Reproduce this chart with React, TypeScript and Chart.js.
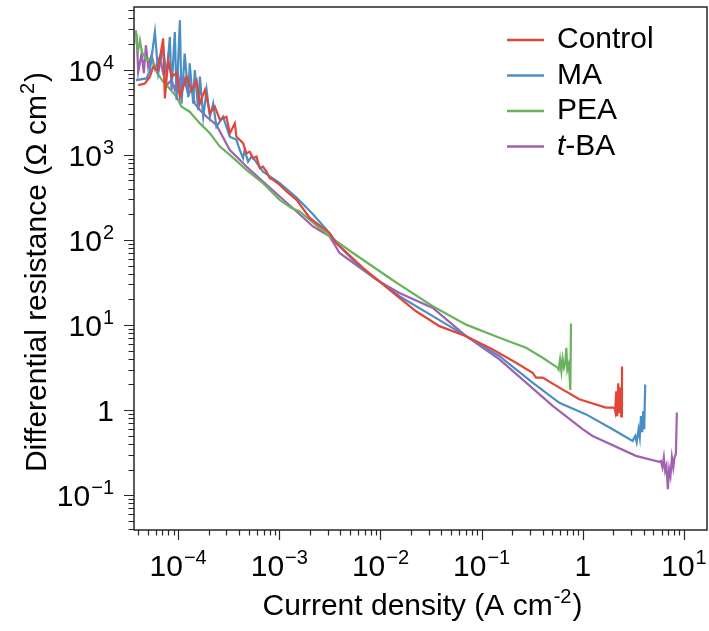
import React, { useEffect, useRef } from "react";
import { Chart, registerables } from "chart.js";

Chart.register(...registerables);

const FONT = '"Liberation Sans", Arial, Helvetica, sans-serif';

// ---- data (current density A cm^-2, differential resistance Ω cm^2) ----
const controlX = [4.03e-5, 4.69e-5, 5.26e-5, 5.66e-5, 6.31e-5, 7.11e-5, 7.39e-5, 7.97e-5, 8.6e-5, 9.64e-5, 1.04e-4, 1.21e-4, 1.36e-4, 1.52e-4, 1.64e-4, 1.84e-4, 2.06e-4, 2.3e-4, 2.58e-4, 3.0e-4, 3.24e-4, 3.63e-4, 3.77e-4, 4.06e-4, 4.38e-4, 4.73e-4, 5.1e-4, 5.5e-4, 5.94e-4, 6.41e-4, 6.9e-4, 7.46e-4, 8.04e-4, 8.67e-4, 1.01e-3, 1.18e-3, 1.48e-3, 2.0e-3, 3.14e-3, 3.66e-3, 6.7e-3, 0.0154, 0.0225, 0.0383, 0.0703, 0.129, 0.219, 0.319, 0.345, 0.401, 0.586, 0.923, 1.69, 2.05, 2.09, 2.14, 2.19, 2.24, 2.29, 2.35, 2.4, 2.44];
const controlY = [6.6e3, 6.9e3, 8.3e3, 1.08e4, 9.9e3, 2.33e4, 4.6e3, 1.3e4, 8.3e3, 9.1e3, 4.8e3, 8.3e3, 5.8e3, 7.5e3, 4.0e3, 5.8e3, 3.1e3, 3.7e3, 2.6e3, 2.8e3, 1.79e3, 2.34e3, 1.63e3, 1.5e3, 1.37e3, 1.04e3, 1.09e3, 912, 953, 697, 728, 635, 532, 508, 443, 371, 296, 181, 120, 92, 46.9, 20.8, 14.5, 9.7, 7.4, 5.16, 3.6, 2.75, 2.41, 2.41, 1.84, 1.34, 1.07, 1.07, 0.97, 1.66, 0.845, 2.06, 0.92, 1.85, 0.845, 3.26];

const maX = [3.82e-5, 4.88e-5, 5.26e-5, 5.89e-5, 6.35e-5, 7.11e-5, 7.68e-5, 8.28e-5, 8.6e-5, 9.27e-5, 9.64e-5, 1.04e-4, 1.08e-4, 1.16e-4, 1.26e-4, 1.3e-4, 1.41e-4, 1.46e-4, 1.58e-4, 1.64e-4, 1.77e-4, 1.91e-4, 2.06e-4, 2.22e-4, 2.39e-4, 2.78e-4, 3.24e-4, 3.77e-4, 4.06e-4, 4.38e-4, 4.55e-4, 4.91e-4, 5.31e-4, 5.71e-4, 6.17e-4, 6.9e-4, 1.01e-3, 1.48e-3, 2.15e-3, 2.6e-3, 3.14e-3, 3.66e-3, 6.2e-3, 0.0154, 0.0329, 0.0703, 0.15, 0.319, 0.586, 1.08, 1.97, 3.11, 3.3, 3.41, 3.56, 3.66, 3.76, 3.87, 3.96, 4.05, 4.14];
const maY = [7.55e3, 7.9e3, 9.9e3, 2.78e4, 9.1e3, 1.85e4, 8.3e3, 2.43e4, 5.8e3, 2.78e4, 4.4e3, 3.82e4, 4.0e3, 1.55e4, 4.8e3, 1.19e4, 4.0e3, 9.9e3, 3.36e3, 8.3e3, 2.8e3, 5.8e3, 2.8e3, 4.0e3, 2.14e3, 2.8e3, 1.63e3, 1.5e3, 1.14e3, 912, 1.14e3, 832, 953, 871, 762, 635, 464, 315, 200, 155, 120, 92, 48.9, 21.8, 12.7, 7.4, 4.3, 2.1, 1.22, 0.89, 0.596, 0.435, 0.497, 0.42, 0.596, 0.48, 0.853, 0.55, 0.975, 0.596, 2.0];

const peaX = [3.82e-5, 3.88e-5, 4.03e-5, 4.19e-5, 4.38e-5, 4.88e-5, 5.38e-5, 6.12e-5, 7.11e-5, 7.68e-5, 9.64e-5, 1.08e-4, 1.3e-4, 1.64e-4, 2.06e-4, 2.58e-4, 3.24e-4, 4.73e-4, 6.9e-4, 1.01e-3, 1.32e-3, 1.59e-3, 3.14e-3, 5.35e-3, 0.0123, 0.0154, 0.0329, 0.0703, 0.15, 0.275, 0.401, 0.564, 0.577, 0.596, 0.614, 0.632, 0.652, 0.672, 0.687, 0.703, 0.724, 0.741, 0.753, 0.765];
const peaY = [2.92e4, 2.03e4, 1.7e4, 2.22e4, 1.61e4, 1.3e4, 1.37e4, 9.4e3, 7.2e3, 6.6e3, 4.8e3, 3.67e3, 3.21e3, 2.34e3, 1.79e3, 1.25e3, 998, 665, 464, 296, 237, 216, 110, 70.2, 35.7, 29.8, 16.6, 10.1, 7.08, 5.4, 4.12, 3.15, 3.0, 3.94, 2.87, 4.02, 3.15, 3.6, 5.4, 3.0, 3.44, 2.51, 1.72, 10.4];

const tbaX = [3.88e-5, 4.03e-5, 4.35e-5, 4.58e-5, 4.8e-5, 5.06e-5, 5.46e-5, 5.89e-5, 6.6e-5, 7.11e-5, 7.68e-5, 8.6e-5, 9.27e-5, 1.0e-4, 1.08e-4, 1.16e-4, 1.26e-4, 1.36e-4, 1.46e-4, 1.64e-4, 1.91e-4, 2.39e-4, 3.24e-4, 4.73e-4, 6.9e-4, 1.01e-3, 1.48e-3, 2.15e-3, 3.14e-3, 3.52e-3, 3.94e-3, 9.1e-3, 0.0154, 0.0329, 0.0703, 0.15, 0.275, 0.504, 0.995, 1.25, 3.35, 5.69, 5.91, 6.13, 6.33, 6.52, 6.72, 6.93, 7.15, 7.36, 7.6, 7.84, 8.06, 8.32, 8.51];
const tbaY = [2.67e4, 9.4e3, 1.55e4, 9.1e3, 1.94e4, 1.08e4, 1.48e4, 1.03e4, 1.42e4, 9.1e3, 6.6e3, 7.55e3, 5.8e3, 8.65e3, 5.27e3, 7.55e3, 5.04e3, 6.04e3, 4.0e3, 3.36e3, 2.8e3, 2.24e3, 1.14e3, 728, 485, 324, 216, 144, 110, 87.9, 70.2, 34.1, 23.8, 15.9, 7.4, 3.94, 2.1, 1.12, 0.596, 0.497, 0.29, 0.247, 0.253, 0.212, 0.277, 0.193, 0.221, 0.118, 0.202, 0.169, 0.277, 0.212, 0.277, 0.303, 0.935];

const seriesLabels = ["Control", "MA", "PEA", "t-BA"];
const seriesColors = ["#e2453a", "#4b8ec4", "#69b35d", "#a061b2"];
const seriesX = [controlX, maX, peaX, tbaX];
const seriesY = [controlY, maY, peaY, tbaY];

const X_MIN = 3.66e-5;
const X_MAX = 16.9;
const Y_MIN = 0.039;
const Y_MAX = 54600;

const xTickExps = [-4, -3, -2, -1, 0, 1];
const yTickExps = [-1, 0, 1, 2, 3, 4];

const xTitle = "Current density (A cm";
const xTitleSup = "-2";
const yTitle = "Differential resistance (Ω cm";
const yTitleSup = "2";

const TICK_SIZE = 30;
const SUP_SIZE = 20;
const SUP_RISE = 12;

function expText(e: number) {
  return e < 0 ? "\u2212" + String(-e) : String(e);
}

function drawPow(ctx: CanvasRenderingContext2D, e: number, x: number, y: number, align: "center" | "right") {
  ctx.textBaseline = "alphabetic";
  ctx.textAlign = "left";
  ctx.font = `${TICK_SIZE}px ${FONT}`;
  if (e === 0) {
    const w = ctx.measureText("1").width;
    const sx = align === "center" ? x - w / 2 : x - w;
    ctx.fillText("1", sx, y);
    return;
  }
  const wb = ctx.measureText("10").width;
  ctx.font = `${SUP_SIZE}px ${FONT}`;
  const es = expText(e);
  const we = ctx.measureText(es).width;
  const total = wb + we + 1;
  const sx = align === "center" ? x - total / 2 : x - total;
  ctx.font = `${TICK_SIZE}px ${FONT}`;
  ctx.fillText("10", sx, y);
  ctx.font = `${SUP_SIZE}px ${FONT}`;
  ctx.fillText(es, sx + wb + 1, y - SUP_RISE);
}

function drawSupText(ctx: CanvasRenderingContext2D, main: string, sup: string, cx: number, by: number) {
  ctx.textBaseline = "alphabetic";
  ctx.textAlign = "left";
  ctx.font = `${TICK_SIZE}px ${FONT}`;
  const w1 = ctx.measureText(main).width;
  const wp = ctx.measureText(")").width;
  ctx.font = `${SUP_SIZE}px ${FONT}`;
  const w2 = ctx.measureText(sup).width;
  const tot = w1 + w2 + wp + 2;
  const sx = cx - tot / 2;
  ctx.font = `${TICK_SIZE}px ${FONT}`;
  ctx.fillText(main, sx, by);
  ctx.font = `${SUP_SIZE}px ${FONT}`;
  ctx.fillText(sup, sx + w1 + 1, by - SUP_RISE);
  ctx.font = `${TICK_SIZE}px ${FONT}`;
  ctx.fillText(")", sx + w1 + w2 + 2, by);
}

const decor = {
  id: "decor",
  afterDraw(chart: any) {
    const { ctx, chartArea: a, scales } = chart;
    const xs = scales.x;
    const ys = scales.y;
    ctx.save();
    ctx.strokeStyle = "#262626";
    ctx.fillStyle = "#000";
    ctx.lineWidth = 1.2;
    ctx.beginPath();
    for (let d = -6; d <= 5; d++) {
      for (let m = 1; m <= 9; m++) {
        const v = m * Math.pow(10, d);
        const len = m === 1 ? 10 : 5.5;
        if (v >= xs.min && v <= xs.max) {
          const px = Math.round(xs.getPixelForValue(v)) + 0.5;
          ctx.moveTo(px, a.bottom);
          ctx.lineTo(px, a.bottom + len);
        }
        if (v >= ys.min && v <= ys.max) {
          const py = Math.round(ys.getPixelForValue(v)) + 0.5;
          ctx.moveTo(a.left, py);
          ctx.lineTo(a.left - len, py);
        }
      }
    }
    ctx.stroke();
    ctx.lineWidth = 1.5;
    ctx.strokeRect(a.left, a.top, a.right - a.left, a.bottom - a.top);

    for (const e of xTickExps) {
      const px = xs.getPixelForValue(Math.pow(10, e));
      drawPow(ctx, e, px, a.bottom + 46, "center");
    }
    for (const e of yTickExps) {
      const py = ys.getPixelForValue(Math.pow(10, e));
      drawPow(ctx, e, a.left - 20, py + 11, "right");
    }

    drawSupText(ctx, xTitle, xTitleSup, (a.left + a.right) / 2 + 2, 615);

    ctx.save();
    ctx.translate(46, 272);
    ctx.rotate(-Math.PI / 2);
    drawSupText(ctx, yTitle, yTitleSup, 0, 0);
    ctx.restore();

    const rows = [40, 75.5, 111, 146.5];
    seriesLabels.forEach((lab, i) => {
      const y = rows[i];
      ctx.strokeStyle = seriesColors[i];
      ctx.lineWidth = 2.5;
      ctx.beginPath();
      ctx.moveTo(507, y);
      ctx.lineTo(544, y);
      ctx.stroke();
      ctx.fillStyle = "#000";
      ctx.textBaseline = "middle";
      ctx.textAlign = "left";
      if (lab.startsWith("t-")) {
        ctx.font = `italic ${TICK_SIZE}px ${FONT}`;
        ctx.fillText("t", 557, y);
        const wt = ctx.measureText("t").width;
        ctx.font = `${TICK_SIZE}px ${FONT}`;
        ctx.fillText(lab.slice(1), 557 + wt, y);
      } else {
        ctx.font = `${TICK_SIZE}px ${FONT}`;
        ctx.fillText(lab, 557, y);
      }
    });
    ctx.restore();
  },
};

export default function App() {
  const ref = useRef<HTMLCanvasElement | null>(null);
  useEffect(() => {
    if (!ref.current) return;
    const chart = new Chart(ref.current, {
      type: "scatter",
      data: {
        datasets: seriesLabels.map((lab, i) => ({
          label: lab,
          data: seriesX[i].map((x, j) => ({ x, y: seriesY[i][j] })),
          showLine: true,
          borderColor: seriesColors[i],
          backgroundColor: seriesColors[i],
          borderWidth: 2.2,
          pointRadius: 0,
          tension: 0,
        })),
      },
      options: {
        animation: false,
        responsive: false,
        devicePixelRatio: 1,
        layout: { padding: { left: 134, right: 2, top: 7, bottom: 101 } },
        plugins: { legend: { display: false }, tooltip: { enabled: false } },
        scales: {
          x: { type: "logarithmic", min: X_MIN, max: X_MAX, display: false },
          y: { type: "logarithmic", min: Y_MIN, max: Y_MAX, display: false },
        },
      },
      plugins: [decor],
    });
    return () => chart.destroy();
  }, []);
  return (
    <div style={{ position: "absolute", left: 0, top: 0, width: 709, height: 631, background: "#fff" }}>
      <canvas ref={ref} width={709} height={631} style={{ display: "block" }} />
    </div>
  );
}
